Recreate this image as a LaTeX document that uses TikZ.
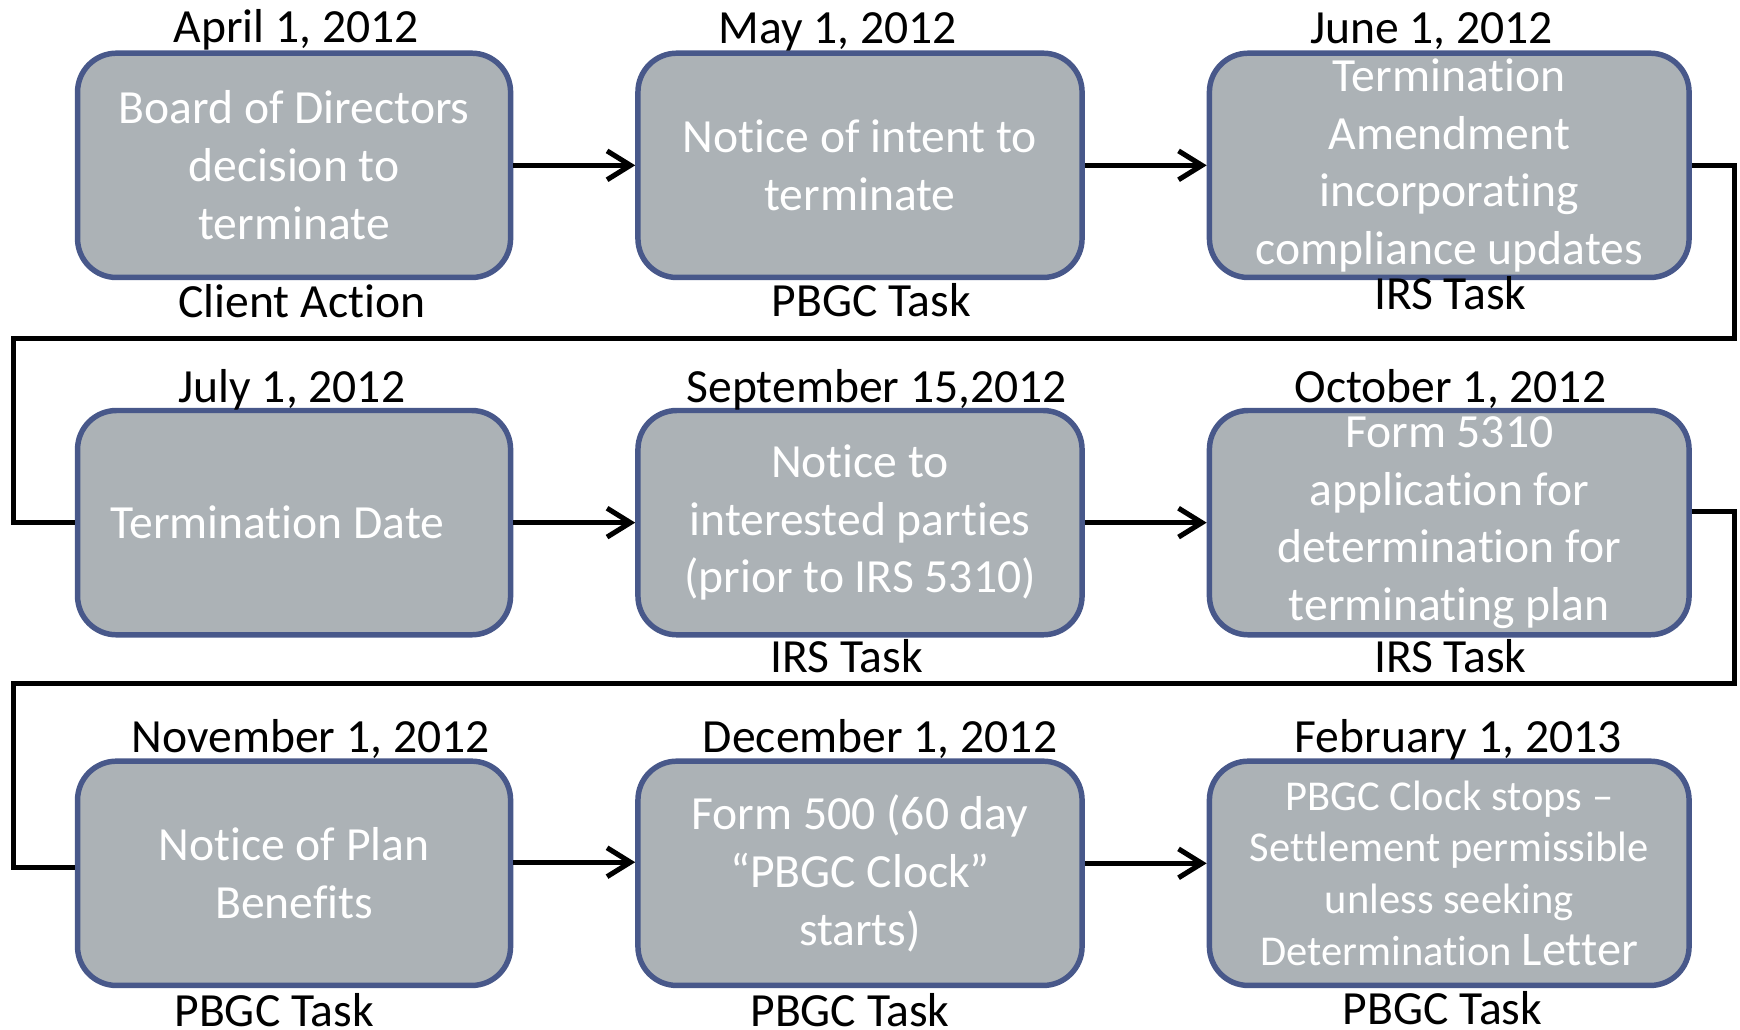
\documentclass[tikz,border=0pt]{standalone}
\usepackage{fontspec}
\setmainfont{Carlito}[Ligatures={TeX,NoCommon}]
\usetikzlibrary{arrows.meta,positioning}
\definecolor{stagegray}{RGB}{172,178,182}
\definecolor{stageblue}{RGB}{72,88,138}

\begin{document}
\begin{tikzpicture}[x=0.01cm,y=-0.01cm,>=Stealth]
    % Styles
    \tikzset{stage/.style   ={draw=stageblue,fill=stagegray,line width=1.4pt,rounded corners=0.35cm,
                              minimum height=2.02cm,inner sep=0pt,align=center,text=white,
                              font=\fontsize{12.2}{14.8}\selectfont}}
    \tikzset{narrow/.style  ={stage,minimum width=3.9cm}}
    \tikzset{middle/.style  ={stage,minimum width=4.0cm}}
    \tikzset{wide/.style    ={stage,minimum width=4.32cm}}
    \tikzset{datetext/.style={anchor=base,font=\fontsize{12.2}{13}\selectfont}}
    \tikzset{tasktext/.style={anchor=base,font=\fontsize{12.2}{13}\selectfont}}
    \tikzset{flow/.style    ={line width=1.3pt,-{Straight Barb[length=2.1mm,width=2.6mm]}}}
    \tikzset{wrap/.style    ={line width=1.3pt}}

    \useasboundingbox (0,0) rectangle (1568,928);

    % Row 1
    \node[narrow] (board)  at (265,149) {Board of Directors\\decision to\\terminate};
    \node[middle] (intent) at (775,149) {Notice of intent to\\terminate};
    \node[wide]   (amend)  at (1306,149) {Termination\\Amendment\\incorporating\\compliance updates};
    \node[datetext] (dboard)  at (267,38)  {April 1, 2012};
    \node[datetext] (dintent) at (755,39)  {May 1, 2012};
    \node[datetext] (damend)  at (1290,39) {June 1, 2012};
    \node[tasktext] (tboard)  at (272,286) {Client Action};
    \node[tasktext] (tintent) at (785,285) {PBGC Task};
    \node[tasktext] (tamend)  at (1307,279) {IRS Task};

    % Row 2
    \node[narrow] (termdate) at (265,471) {Termination Date\hspace*{0.3cm}};
    \node[middle] (parties)  at (775,471) {Notice to\\interested parties\\(prior to IRS 5310)};
    \node[wide]   (form5310) at (1306,471) {Form 5310\\application for\\determination for\\terminating plan};
    \node[datetext] (dtermdate) at (263,363)  {July 1, 2012};
    \node[datetext] (dparties)  at (790,363)  {September 15,2012};
    \node[datetext] (dform5310) at (1307,363) {October 1, 2012};
    \node[tasktext] (tparties)  at (763,606)  {IRS Task};
    \node[tasktext] (tform5310) at (1307,606) {IRS Task};

    % Row 3
    \node[narrow] (benefits) at (265,787) {Notice of Plan\\Benefits};
    \node[middle] (form500)  at (775,787) {Form 500 (60 day\\“PBGC Clock”\\starts)};
    \node[wide,font=\fontsize{10.9}{13.3}\selectfont] (clockstop) at (1306,787)
        {PBGC Clock stops –\\Settlement permissible\\unless seeking\\Determination {\fontsize{12.4}{13.3}\selectfont Letter}};
    \node[datetext] (dbenefits)  at (280,678)  {November 1, 2012};
    \node[datetext] (dform500)   at (793,678)  {December 1, 2012};
    \node[datetext] (dclockstop) at (1314,678) {February 1, 2013};
    \node[tasktext] (tbenefits)  at (247,925)  {PBGC Task};
    \node[tasktext] (tform500)   at (766,925)  {PBGC Task};
    \node[tasktext] (tclockstop) at (1300,923) {PBGC Task};

    % Turn points of the wrap-around lines
    \coordinate (right1) at (1563,305);
    \coordinate (left1)  at (12,305);
    \coordinate (right2) at (1563,616);
    \coordinate (left2)  at (12,616);

    % Connectors
    \draw[flow] (board) -- (intent);
    \draw[flow] (intent) -- (amend);
    \draw[wrap] (amend.east) -| (right1) -- (left1) |- (termdate.west);
    \draw[flow] (termdate) -- (parties);
    \draw[flow] (parties) -- (form5310);
    \draw[wrap] ([yshift=1mm]form5310.east) -| (right2) -- (left2) |- ([yshift=0.5mm]benefits.west);
    \draw[flow] ([yshift=1mm]benefits.east) -- ([yshift=1mm]form500.west);
    \draw[flow] ([yshift=0.9mm]form500.east) -- ([yshift=0.9mm]clockstop.west);
\end{tikzpicture}
\end{document}
